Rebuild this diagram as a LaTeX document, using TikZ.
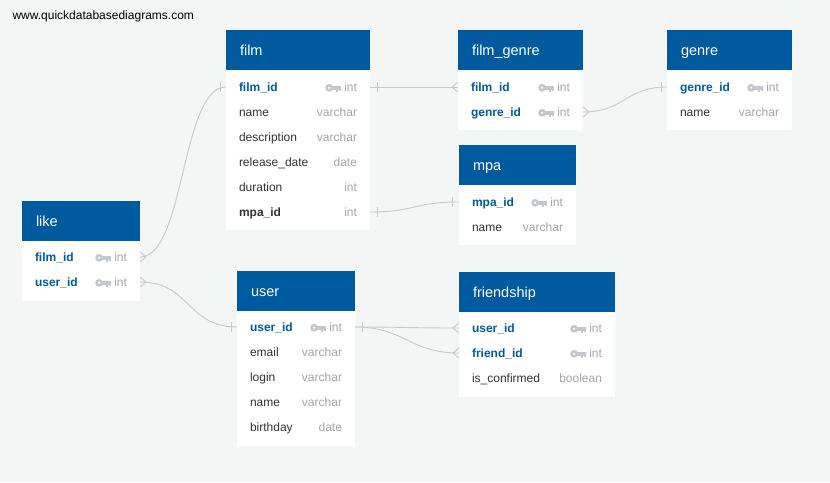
\documentclass[tikz,border=0pt]{standalone}
\usepackage{fontspec}
\setmainfont{Liberation Sans}
\definecolor{qblue}{HTML}{005AA0}
\definecolor{bggray}{HTML}{F4F5F5}
\definecolor{linegray}{HTML}{C8C8C8}
\definecolor{typegray}{HTML}{A6A6A6}
\definecolor{keygray}{HTML}{C4C7CB}
\definecolor{fieldgray}{HTML}{333333}
\newcommand\keyicon{\tikz[x=1pt,y=1pt,baseline=0pt]{\fill[keygray] (3.8,3.2) circle (3.9); \fill[white] (3.8,3.2) circle (1.2); \fill[keygray] (6.5,1.4) rectangle (15.5,4.9); \fill[keygray] (10.2,1.4) rectangle (12.4,-0.8); \fill[keygray] (13.4,1.4) rectangle (15.5,-0.3);}}
\newcommand\typ[1]{\textcolor{typegray}{\mdseries #1}}
\newcommand\pk{\keyicon\hspace{3.5pt}\typ{int}}
\begin{document}
\begin{tikzpicture}[x=1pt,y=-1pt,
  head/.style={anchor=north west,fill=qblue,text=white,minimum height=40pt,inner xsep=14pt,align=left,outer sep=0pt,text height=11.5pt,text depth=1.5pt,font=\fontsize{14.5}{16}\selectfont},
  row/.style={anchor=west,inner xsep=13pt,inner ysep=2pt,align=left,outer sep=0pt,text=fieldgray,text height=10pt,text depth=2pt,font=\fontsize{12}{14}\selectfont},
  keyrow/.style={row,text=qblue,font=\fontsize{12}{14}\selectfont\bfseries},
  fkrow/.style={row,font=\fontsize{12}{14}\selectfont\bfseries},
  rel/.style={draw=linegray,line width=0.9pt}]
\useasboundingbox[fill=bggray] (0,0) rectangle (830,482);
\node[anchor=west,font=\fontsize{12}{14}\selectfont] (url) at (9,16) {www.quickdatabasediagrams.com};
% film
\fill[white] (226,70) rectangle (370,230);
\node[head,text width=116pt] (film) at (226,30) {film};
\node[keyrow,text width=118pt] (film-filmid) at (226,87) {film\_id\hfill\pk};
\node[row,text width=118pt] (film-name) at (226,112) {name\hfill\typ{varchar}};
\node[row,text width=118pt] (film-desc) at (226,137) {description\hfill\typ{varchar}};
\node[row,text width=118pt] (film-date) at (226,162) {release\_date\hfill\typ{date}};
\node[row,text width=118pt] (film-dur) at (226,187) {duration\hfill\typ{int}};
\node[fkrow,text width=118pt] (film-mpaid) at (226,212) {mpa\_id\hfill\typ{int}};
% film_genre
\fill[white] (458,70) rectangle (583,130);
\node[head,text width=97pt] (fg) at (458,30) {film\_genre};
\node[keyrow,text width=99pt] (fg-filmid) at (458,87) {film\_id\hfill\pk};
\node[keyrow,text width=99pt] (fg-genreid) at (458,112) {genre\_id\hfill\pk};
% genre
\fill[white] (667,70) rectangle (792,130);
\node[head,text width=97pt] (genre) at (667,30) {genre};
\node[keyrow,text width=99pt] (genre-genreid) at (667,87) {genre\_id\hfill\pk};
\node[row,text width=99pt] (genre-name) at (667,112) {name\hfill\typ{varchar}};
% mpa
\fill[white] (459,185) rectangle (576,245);
\node[head,text width=89pt] (mpa) at (459,145) {mpa};
\node[keyrow,text width=91pt] (mpa-mpaid) at (459,202) {mpa\_id\hfill\pk};
\node[row,text width=91pt] (mpa-name) at (459,227) {name\hfill\typ{varchar}};
% like
\fill[white] (22,241) rectangle (140,301);
\node[head,text width=90pt] (like) at (22,201) {like};
\node[keyrow,text width=92pt] (like-filmid) at (22,257) {film\_id\hfill\pk};
\node[keyrow,text width=92pt] (like-userid) at (22,282) {user\_id\hfill\pk};
% user
\fill[white] (237,311) rectangle (355,446);
\node[head,text width=90pt] (user) at (237,271) {user};
\node[keyrow,text width=92pt] (user-userid) at (237,327) {user\_id\hfill\pk};
\node[row,text width=92pt] (user-email) at (237,352) {email\hfill\typ{varchar}};
\node[row,text width=92pt] (user-login) at (237,377) {login\hfill\typ{varchar}};
\node[row,text width=92pt] (user-name) at (237,402) {name\hfill\typ{varchar}};
\node[row,text width=92pt] (user-bday) at (237,427) {birthday\hfill\typ{date}};
% friendship
\fill[white] (459,312) rectangle (615,397);
\node[head,text width=128pt] (fr) at (459,272) {friendship};
\node[keyrow,text width=130pt] (fr-userid) at (459,328) {user\_id\hfill\pk};
\node[keyrow,text width=130pt] (fr-friendid) at (459,353) {friend\_id\hfill\pk};
\node[row,text width=130pt] (fr-conf) at (459,378) {is\_confirmed\hfill\typ{boolean}};
% film -- film_genre
\draw[rel] (film-filmid.east) -- (fg-filmid.west);
\draw[rel] ([xshift=7pt,yshift=5pt]film-filmid.east) -- ++(0,10);
\draw[rel] ([yshift=5pt]fg-filmid.west) -- ([xshift=-6pt]fg-filmid.west) -- ([yshift=-5pt]fg-filmid.west);
% film_genre -- genre
\draw[rel] (fg-genreid.east) .. controls +(42,0) and +(-42,0) .. (genre-genreid.west);
\draw[rel] ([yshift=5pt]fg-genreid.east) -- ([xshift=6pt]fg-genreid.east) -- ([yshift=-5pt]fg-genreid.east);
\draw[rel] ([xshift=-6pt,yshift=5pt]genre-genreid.west) -- ++(0,10);
% film -- mpa
\draw[rel] (film-mpaid.east) .. controls +(45,0) and +(-45,0) .. (mpa-mpaid.west);
\draw[rel] ([xshift=7pt,yshift=5pt]film-mpaid.east) -- ++(0,10);
\draw[rel] ([xshift=-7pt,yshift=5pt]mpa-mpaid.west) -- ++(0,10);
% like -- film
\draw[rel] (like-filmid.east) .. controls +(45,0) and +(-45,0) .. (film-filmid.west);
\draw[rel] ([yshift=5pt]like-filmid.east) -- ([xshift=6pt]like-filmid.east) -- ([yshift=-5pt]like-filmid.east);
\draw[rel] ([xshift=-6pt,yshift=5pt]film-filmid.west) -- ++(0,10);
% like -- user
\draw[rel] (like-userid.east) .. controls +(50,0) and +(-50,0) .. (user-userid.west);
\draw[rel] ([yshift=5pt]like-userid.east) -- ([xshift=6pt]like-userid.east) -- ([yshift=-5pt]like-userid.east);
\draw[rel] ([xshift=-6pt,yshift=5pt]user-userid.west) -- ++(0,10);
% user -- friendship
\draw[rel] (user-userid.east) .. controls +(50,0) and +(-50,0) .. (fr-userid.west);
\draw[rel] (user-userid.east) .. controls +(50,0) and +(-50,0) .. (fr-friendid.west);
\draw[rel] ([xshift=7pt,yshift=5pt]user-userid.east) -- ++(0,10);
\draw[rel] ([yshift=5pt]fr-userid.west) -- ([xshift=-6pt]fr-userid.west) -- ([yshift=-5pt]fr-userid.west);
\draw[rel] ([yshift=5pt]fr-friendid.west) -- ([xshift=-6pt]fr-friendid.west) -- ([yshift=-5pt]fr-friendid.west);
\end{tikzpicture}
\end{document}
